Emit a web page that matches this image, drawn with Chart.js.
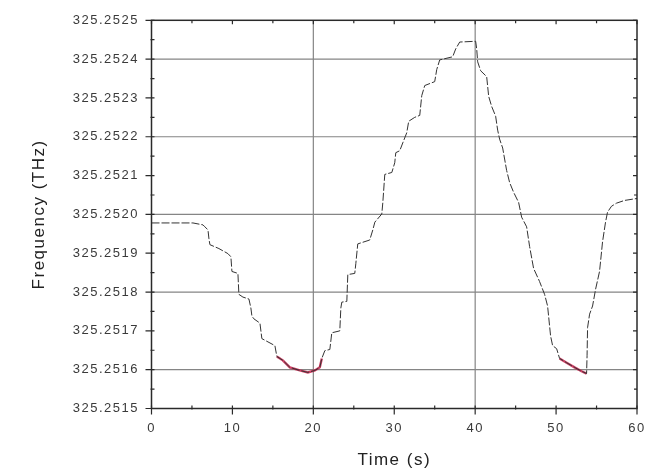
<!DOCTYPE html>
<html lang="en">
<head>
  <meta charset="UTF-8">
  <title>Frequency vs Time</title>
  <script src="https://cdn.jsdelivr.net/npm/chart.js@4"></script>
  <style>
    body {
      margin: 0;
      background: #fff;
    }
    .wrap {
      width: 664px;
      height: 473px;
    }
  </style>
</head>
<body>
  <div class="wrap"><canvas id="freqChart" width="664" height="473"></canvas></div>

  <script>
    // time (s) and frequency (THz)
    const time = [
      0, 4.75, 5.12, 6.36, 6.6, 6.98, 7.1, 7.22, 8.33, 9.44, 9.81, 9.94, 10.68, 10.8, 11.3, 12.04,
      12.28, 12.41, 12.65, 13.4, 13.64, 15.25, 15.49, 16.23, 17.1, 18.33, 19.32, 20.19, 20.8, 21.05,
      21.42, 22.04, 22.28, 23.27, 23.4, 23.52, 24.14, 24.26, 25.12, 25.25, 25.49, 26.97, 27.35, 27.6,
      28.46, 28.59, 28.83, 29.7, 30.06, 30.19, 30.68, 31.05, 31.54, 31.79, 32.53, 33.15, 33.4, 33.77,
      35.0, 35.25, 35.62, 37.22, 37.59, 38.09, 40.06, 40.19, 40.31, 40.68, 41.42, 41.67, 42.04, 42.53,
      42.78, 43.02, 43.4, 43.89, 44.26, 44.75, 45.37, 45.74, 46.36, 46.73, 47.22, 47.96, 48.58, 48.95,
      49.32, 49.57, 50.07, 50.43, 51.3, 52.28, 53.15, 53.77, 53.83, 53.89, 54.14, 54.51, 54.88, 55.37,
      55.74, 56.11, 56.36, 56.85, 57.47, 58.46, 60
    ];
    const freq = [
      325.251978, 325.251978, 325.251978, 325.251973, 325.251968, 325.251960, 325.251937, 325.251922,
      325.251912, 325.251899, 325.251891, 325.251853, 325.251848, 325.251794, 325.251787, 325.251782,
      325.251759, 325.251738, 325.251731, 325.251720, 325.251680, 325.251662, 325.251634, 325.251624,
      325.251606, 325.251598, 325.251593, 325.251598, 325.251606, 325.251629, 325.251649, 325.251652,
      325.251695, 325.251700, 325.251759, 325.251774, 325.251776, 325.251845, 325.251848, 325.251873,
      325.251924, 325.251934, 325.251960, 325.251980, 325.252001, 325.252031, 325.252103, 325.252108,
      325.252133, 325.252159, 325.252164, 325.252184, 325.252210, 325.252240, 325.252250, 325.252255,
      325.252306, 325.252332, 325.252342, 325.252373, 325.252398, 325.252406, 325.252426, 325.252444,
      325.252446, 325.252426, 325.252393, 325.252370, 325.252355, 325.252304, 325.252278, 325.252253,
      325.252217, 325.252194, 325.252171, 325.252113, 325.252082, 325.252057, 325.252031, 325.251993,
      325.251968, 325.251917, 325.251861, 325.251827, 325.251794, 325.251764, 325.251687, 325.251662,
      325.251654, 325.251629, 325.251618, 325.251606, 325.251596, 325.251590, 325.251636, 325.251708,
      325.251743, 325.251764, 325.251807, 325.251853, 325.251929, 325.251980, 325.252006, 325.252021,
      325.252029, 325.252036, 325.252041
    ];
    // stretches of the trace drawn in red
    const redRanges = [[15.4, 21.1], [50.3, 53.8]];

    const timeTicks = [0, 10, 20, 30, 40, 50, 60];
    const freqTicks = ['325.2515', '325.2516', '325.2517', '325.2518', '325.2519', '325.2520',
                       '325.2521', '325.2522', '325.2523', '325.2524', '325.2525'];
    const timeGrid = [20, 40];
    const freqGrid = [325.2516, 325.2518, 325.2520, 325.2522, 325.2524];

    const tickFont = { family: "'Liberation Sans', Arial, sans-serif", size: 13 };
    const titleFont = { family: "'Liberation Sans', Arial, sans-serif", size: 17 };

    const mainData = time.map((t, i) => ({ x: t, y: freq[i] }));
    const redData = time.map((t, i) => ({
      x: t,
      y: redRanges.some(r => t >= r[0] && t <= r[1]) ? freq[i] : null
    }));

    // grid, box frame and tick marks, drawn through the chart's scales
    const framePlugin = {
      id: 'frame',
      beforeDraw(chart) {
        // the original lettering is set wide
        chart.ctx.letterSpacing = '1.5px';
      },
      beforeDatasetsDraw(chart) {
        const { ctx, chartArea: a, scales: { x, y } } = chart;
        ctx.save();
        ctx.strokeStyle = '#858585';
        ctx.lineWidth = 1.2;
        ctx.beginPath();
        timeGrid.forEach(v => {
          const px = x.getPixelForValue(v);
          ctx.moveTo(px, a.top); ctx.lineTo(px, a.bottom);
        });
        freqGrid.forEach(v => {
          const py = y.getPixelForValue(v);
          ctx.moveTo(a.left, py); ctx.lineTo(a.right, py);
        });
        ctx.stroke();
        ctx.restore();
      },
      afterDatasetsDraw(chart) {
        const { ctx, chartArea: a, scales: { x, y } } = chart;
        ctx.save();
        ctx.strokeStyle = '#2a2a2a';
        ctx.lineWidth = 1.5;
        ctx.strokeRect(a.left, a.top, a.right - a.left, a.bottom - a.top);

        ctx.lineWidth = 1.2;
        ctx.beginPath();
        const xs = timeTicks.map(v => x.getPixelForValue(v));
        const ys = freqTicks.map(v => y.getPixelForValue(parseFloat(v)));
        xs.forEach((px, i) => {
          ctx.moveTo(px, a.bottom + 6); ctx.lineTo(px, a.bottom - 3);
          ctx.moveTo(px, a.top); ctx.lineTo(px, a.top + 4);
          if (i < xs.length - 1) {
            const m = (px + xs[i + 1]) / 2;
            ctx.moveTo(m, a.bottom + 1); ctx.lineTo(m, a.bottom - 3);
            ctx.moveTo(m, a.top); ctx.lineTo(m, a.top + 3);
          }
        });
        ys.forEach((py, i) => {
          ctx.moveTo(a.left - 6, py); ctx.lineTo(a.left + 3, py);
          ctx.moveTo(a.right, py); ctx.lineTo(a.right - 4, py);
          if (i < ys.length - 1) {
            const m = (py + ys[i + 1]) / 2;
            ctx.moveTo(a.left - 1, m); ctx.lineTo(a.left + 3, m);
            ctx.moveTo(a.right, m); ctx.lineTo(a.right - 3, m);
          }
        });
        ctx.stroke();
        ctx.restore();
      }
    };

    const ctx = document.getElementById('freqChart').getContext('2d');
    new Chart(ctx, {
      type: 'line',
      data: {
        datasets: [
          {
            data: mainData,
            borderColor: '#333',
            borderWidth: 1,
            borderDash: [8, 2],
            pointRadius: 0,
            tension: 0
          },
          {
            data: redData,
            borderColor: 'rgba(200, 30, 74, 0.85)',
            borderWidth: 2.4,
            pointRadius: 0,
            spanGaps: false,
            tension: 0
          }
        ]
      },
      options: {
        responsive: false,
        animation: false,
        devicePixelRatio: 1,
        layout: { padding: { left: 29, right: 27, top: 16, bottom: 2 } },
        plugins: {
          legend: { display: false },
          tooltip: { enabled: false }
        },
        scales: {
          x: {
            type: 'linear',
            min: 0,
            max: 60,
            afterFit(scale) { scale.height = 62.5; },
            afterBuildTicks(scale) { scale.ticks = timeTicks.map(v => ({ value: v })); },
            grid: { display: false, drawTicks: false },
            border: { display: false },
            ticks: {
              autoSkip: false,
              maxRotation: 0,
              padding: 12,
              color: '#3a3a3a',
              font: tickFont,
              callback: v => String(v)
            },
            title: {
              display: true,
              text: 'Time (s)',
              color: '#222',
              font: titleFont,
              padding: 0
            }
          },
          y: {
            type: 'linear',
            min: 325.2515,
            max: 325.2525,
            afterFit(scale) { scale.width = 122.5; },
            afterBuildTicks(scale) { scale.ticks = freqTicks.map(v => ({ value: parseFloat(v) })); },
            grid: { display: false, drawTicks: false },
            border: { display: false },
            ticks: {
              autoSkip: false,
              padding: 12.5,
              color: '#3a3a3a',
              font: tickFont,
              callback: (v, i) => freqTicks[i]
            },
            title: {
              display: true,
              text: 'Frequency (THz)',
              color: '#222',
              font: titleFont,
              padding: 0
            }
          }
        }
      },
      plugins: [framePlugin]
    });
  </script>
</body>
</html>
